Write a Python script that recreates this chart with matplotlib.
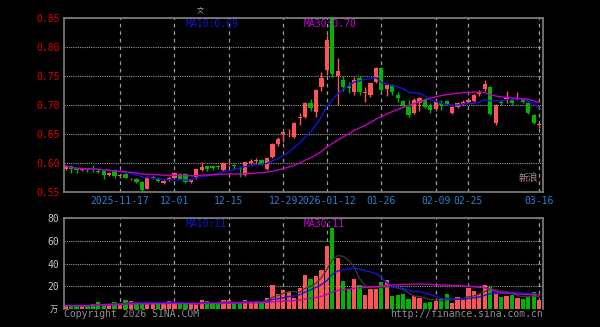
import matplotlib
matplotlib.use("Agg")
import matplotlib.pyplot as plt
import pandas as pd

# daily K-line, 2025-11-03 .. 2026-03-16
holidays = ["2026-01-01", "2026-01-02", "2026-02-16", "2026-02-17", "2026-02-18",
            "2026-02-19", "2026-02-20", "2026-02-23"]
tick_dates = ["2025-11-17", "2025-12-01", "2025-12-15", "2025-12-29", "2026-01-12",
              "2026-01-26", "2026-02-09", "2026-02-25", "2026-03-16"]
tick_labels = ["2025-11-17", "12-01", "12-15", "12-29", "2026-01-12",
               "01-26", "02-09", "02-25", "03-16"]

opens = [.590, .595, .589, .588, .591, .591, .587, .586, .580, .588,
         .577, .581, .572, .572, .568, .556, .575, .574, .566, .571,
         .574, .581, .581, .568, .576, .588, .594, .594, .594, .588,
         .598, .597, .592, .579, .600, .603, .605, .590, .610, .632,
         .650, .651, .645, .678, .679, .703, .688, .731, .760, .850,
         .750, .743, .733, .722, .747, .721, .717, .740, .764, .728,
         .735, .717, .707, .697, .686, .703, .709, .699, .693, .703,
         .707, .687, .697, .702, .705, .707, .719, .728, .731, .669,
         .706, .711, .709, .715, .710, .703, .683, .666]
highs = [.597, .597, .590, .591, .592, .597, .589, .587, .585, .589,
         .581, .582, .575, .574, .569, .577, .578, .576, .570, .577,
         .585, .583, .583, .573, .592, .602, .596, .595, .597, .601,
         .604, .598, .594, .602, .607, .608, .607, .611, .634, .645,
         .655, .658, .671, .686, .705, .710, .728, .757, .821, .850,
         .781, .750, .740, .748, .750, .731, .740, .766, .765, .735,
         .737, .722, .709, .708, .712, .714, .712, .704, .707, .709,
         .709, .698, .705, .709, .712, .719, .726, .743, .733, .702,
         .708, .725, .712, .722, .712, .705, .684, .671]
lows = [.588, .583, .583, .586, .585, .585, .583, .572, .578, .575,
        .575, .574, .570, .566, .551, .555, .573, .567, .564, .569,
        .573, .572, .565, .565, .573, .586, .586, .588, .589, .586,
        .596, .590, .576, .578, .598, .600, .597, .588, .608, .630,
        .636, .645, .643, .666, .677, .690, .680, .725, .752, .748,
        .700, .725, .720, .718, .718, .705, .714, .738, .724, .716,
        .718, .705, .696, .680, .684, .690, .694, .687, .690, .691,
        .700, .685, .694, .700, .703, .705, .716, .725, .682, .666,
        .700, .703, .700, .708, .703, .685, .667, .661]
closes = [.595, .590, .588, .589, .588, .590, .584, .580, .583, .578,
          .579, .575, .573, .568, .553, .574, .576, .569, .569, .575,
          .582, .573, .567, .572, .590, .593, .589, .591, .593, .600,
          .599, .594, .590, .601, .604, .606, .599, .609, .632, .642,
          .653, .652, .669, .680, .703, .695, .726, .746, .812, .753,
          .758, .731, .729, .743, .722, .723, .738, .764, .726, .734,
          .722, .712, .698, .683, .709, .712, .697, .691, .705, .700,
          .702, .696, .703, .706, .709, .717, .720, .736, .684, .700,
          .703, .713, .703, .716, .705, .686, .669, .668]
# volume, 万手
volumes = [3.0, 3.0, 2.8, 3.0, 3.2, 4.0, 6.0, 4.5, 4.0, 6.0,
           3.5, 7.5, 7.0, 5.0, 4.5, 4.5, 6.5, 6.5, 4.5, 7.0,
           4.0, 4.5, 4.5, 4.0, 4.5, 7.5, 7.0, 4.5, 4.0, 7.5,
           7.5, 5.0, 5.0, 7.5, 6.5, 7.0, 7.0, 10.0, 21.0, 13.5,
           17.0, 15.0, 10.0, 18.5, 30.0, 26.0, 29.0, 34.0, 55.8, 71.4,
           45.0, 24.8, 17.4, 26.3, 21.2, 12.4, 18.0, 18.0, 24.0, 25.7,
           11.5, 12.0, 13.0, 8.5, 11.5, 10.0, 5.0, 6.5, 7.4, 8.5,
           13.0, 5.0, 10.3, 8.0, 18.3, 16.0, 13.3, 21.2, 19.2, 14.4,
           10.9, 11.5, 12.4, 10.0, 9.0, 10.9, 15.3, 8.0]

UP = "#ff5454"
DOWN = "#00b400"
GRID = "#9a9a9a"
FRAME = "#808080"

days = pd.bdate_range("2025-11-03", "2026-03-16")
days = days[~days.isin(pd.to_datetime(holidays))]
df = pd.DataFrame({"open": opens, "high": highs, "low": lows, "close": closes,
                   "vol": volumes}, index=days)
x = range(len(df))
tick_pos = [days.get_loc(pd.Timestamp(d)) for d in tick_dates]
colors = [UP if c >= o else DOWN for o, c in zip(df["open"], df["close"])]

ma10 = df["close"].rolling(10, min_periods=1).mean()
ma30 = df["close"].rolling(30, min_periods=1).mean()
vma5 = df["vol"].rolling(5, min_periods=1).mean()
vma10 = df["vol"].rolling(10, min_periods=1).mean()
vma30 = df["vol"].rolling(30, min_periods=1).mean()

fig = plt.figure(figsize=(6, 3.27), dpi=100, facecolor="black")
ax = fig.add_axes([64 / 600, 1 - 192 / 327, 479 / 600, 174 / 327], facecolor="black")
axv = fig.add_axes([64 / 600, 1 - 309 / 327, 479 / 600, 91 / 327], facecolor="black")

for a in (ax, axv):
    for s in a.spines.values():
        s.set_color(FRAME)
        s.set_linewidth(1.2)
    a.set_xlim(-0.3, len(df) - 0.3)
    a.set_xticks(tick_pos)
    a.tick_params(length=0)
    a.xaxis.grid(True, color=GRID, linestyle=(0, (3, 3)), linewidth=0.9)
    a.yaxis.grid(True, color=GRID, linestyle=(0, (1, 1)), linewidth=0.8)
    a.set_axisbelow(True)
axv.spines["bottom"].set_visible(False)

# candles
body_lo = [min(o, c) for o, c in zip(df["open"], df["close"])]
body_h = [max(abs(c - o), 0.0009) for o, c in zip(df["open"], df["close"])]
ax.vlines(x, df["low"], df["high"], colors=colors, linewidth=1)
ax.bar(x, body_h, bottom=body_lo, width=0.78, color=colors, linewidth=0)
ax.plot(x, ma10, color="#1414d8", linewidth=1)
ax.plot(x, ma30, color="#c000c0", linewidth=1)
ax.set_ylim(0.55, 0.85)
ax.set_yticks([0.55, 0.60, 0.65, 0.70, 0.75, 0.80, 0.85])
ax.set_yticklabels(["0.55", "0.60", "0.65", "0.70", "0.75", "0.80", "0.85"],
                   color="#e00000", fontsize=7, family="DejaVu Sans Mono")
ax.set_xticklabels(tick_labels, color="#2a80d0", fontsize=7, family="DejaVu Sans Mono")
ax.tick_params(axis="y", pad=3)
ax.tick_params(axis="x", pad=3)

# volume
axv.bar(x, df["vol"], width=0.78, color=colors, linewidth=0)
axv.plot(x, vma5, color="#3a3a3a", linewidth=0.9)
axv.plot(x, vma10, color="#1414d8", linewidth=1)
axv.plot(x, vma30, color="#c000c0", linewidth=1)
axv.set_ylim(0, 80)
axv.set_yticks([20, 40, 60, 80])
axv.set_yticklabels(["20", "40", "60", "80"], color="#c8c8c8", fontsize=7,
                    family="DejaVu Sans Mono")
axv.set_xticklabels([])

mono = dict(family="DejaVu Sans Mono", fontsize=7)
fig.text(186 / 600, 1 - 24 / 327, "MA10:0.69", color="#1414e0", va="center", **mono)
fig.text(304 / 600, 1 - 24 / 327, "MA30:0.70", color="#d000d0", va="center", **mono)
fig.text(186 / 600, 1 - 224 / 327, "MA10:11", color="#1414e0", va="center", **mono)
fig.text(304 / 600, 1 - 224 / 327, "MA30:11", color="#d000d0", va="center", **mono)
fig.text(64 / 600, 1 - 314 / 327, "Copyright 2026 SINA.COM", color="#909090",
         va="center", **mono)
fig.text(543 / 600, 1 - 314 / 327, "http://finance.sina.com.cn", color="#909090",
         va="center", ha="right", **mono)
fig.text(58 / 600, 1 - 309 / 327, "万", color="#c8c8c8", va="center", ha="right",
         family=["Noto Sans CJK SC", "DejaVu Sans"], fontsize=6)
fig.text(200 / 600, 1 - 10 / 327, "文", color="#a0a0a0", va="center", ha="center",
         family=["Noto Sans CJK SC", "DejaVu Sans"], fontsize=5)
fig.text(528 / 600, 1 - 178 / 327, "新浪", color="#e0b0b8", va="center", ha="center",
         family=["Noto Sans CJK SC", "DejaVu Sans"], fontsize=7, alpha=0.8)

fig.savefig("out.png", dpi=100, facecolor="black")
